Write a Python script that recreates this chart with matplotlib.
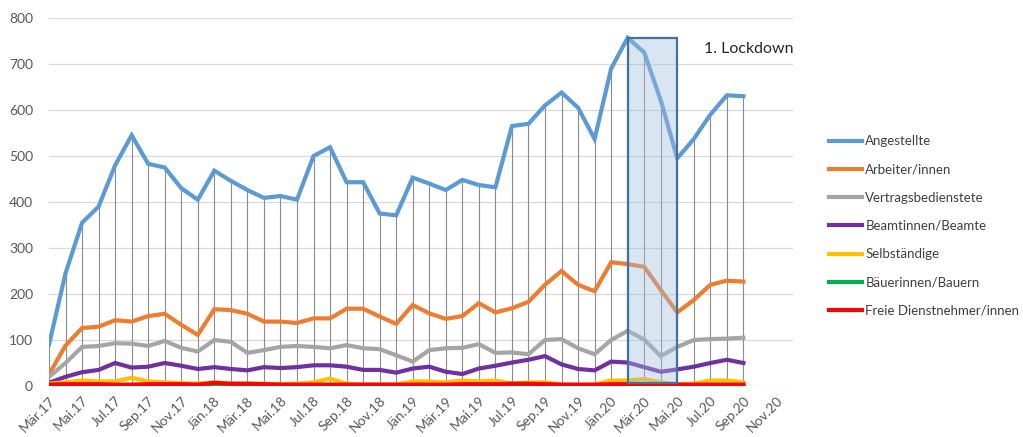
import numpy as np
import matplotlib.pyplot as plt
from matplotlib.patches import Rectangle

plt.rcParams['font.family'] = ['Lato', 'DejaVu Sans']

# months Mär.17 .. Sep.20
months = ['Mär.17', 'Apr.17', 'Mai.17', 'Jun.17', 'Jul.17', 'Aug.17', 'Sep.17', 'Okt.17', 'Nov.17', 'Dez.17',
          'Jän.18', 'Feb.18', 'Mär.18', 'Apr.18', 'Mai.18', 'Jun.18', 'Jul.18', 'Aug.18', 'Sep.18', 'Okt.18',
          'Nov.18', 'Dez.18', 'Jän.19', 'Feb.19', 'Mär.19', 'Apr.19', 'Mai.19', 'Jun.19', 'Jul.19', 'Aug.19',
          'Sep.19', 'Okt.19', 'Nov.19', 'Dez.19', 'Jän.20', 'Feb.20', 'Mär.20', 'Apr.20', 'Mai.20', 'Jun.20',
          'Jul.20', 'Aug.20', 'Sep.20']
tick_labels = ['Mär.17', 'Mai.17', 'Jul.17', 'Sep.17', 'Nov.17', 'Jän.18', 'Mär.18', 'Mai.18', 'Jul.18',
               'Sep.18', 'Nov.18', 'Jän.19', 'Mär.19', 'Mai.19', 'Jul.19', 'Sep.19', 'Nov.19', 'Jän.20',
               'Mär.20', 'Mai.20', 'Jul.20', 'Sep.20', 'Nov.20']

angestellte = [90, 245, 355, 390, 480, 545, 483, 475, 430, 405,
               468, 446, 426, 409, 413, 405, 500, 519, 443, 443,
               375, 371, 453, 440, 426, 448, 437, 432, 565, 570,
               610, 638, 605, 537, 690, 757, 725, 621, 495, 537,
               590, 632, 630]
arbeiter = [25, 88, 126, 129, 143, 140, 152, 157, 133, 111,
            167, 165, 157, 140, 140, 137, 147, 147, 168, 168,
            151, 135, 176, 158, 146, 152, 180, 160, 169, 183,
            220, 250, 220, 206, 269, 265, 259, 209, 160, 187,
            220, 229, 227]
vertrag = [20, 50, 85, 87, 93, 92, 87, 98, 83, 75,
           100, 96, 72, 78, 85, 87, 85, 82, 89, 82,
           80, 67, 53, 78, 82, 83, 91, 72, 73, 69,
           100, 102, 82, 69, 100, 120, 101, 65, 85, 100,
           102, 103, 105]
beamte = [7, 20, 30, 35, 50, 40, 42, 50, 44, 37,
          41, 37, 34, 41, 39, 41, 45, 45, 42, 35,
          35, 29, 38, 42, 31, 26, 38, 44, 51, 57,
          65, 47, 37, 34, 53, 51, 41, 31, 36, 42,
          50, 57, 50]
selbst = [5, 8, 12, 10, 10, 18, 10, 8, 6, 5,
          8, 5, 5, 5, 4, 5, 8, 16, 5, 3,
          3, 3, 10, 10, 8, 12, 10, 12, 5, 8,
          8, 3, 2, 3, 12, 12, 15, 8, 3, 5,
          12, 12, 8]
bauern = [1, 1, 1, 1, 1, 1, 1, 1, 1, 1,
          2, 1, 1, 1, 1, 1, 1, 1, 1, 1,
          1, 1, 1, 1, 1, 1, 1, 1, 1, 1,
          1, 1, 1, 1, 1, 1, 1, 1, 1, 1,
          1, 1, 1]
freie = [3, 4, 4, 4, 3, 3, 4, 4, 4, 3,
         7, 5, 5, 4, 3, 3, 3, 3, 3, 3,
         3, 3, 3, 3, 3, 4, 4, 4, 5, 5,
         4, 3, 3, 3, 4, 4, 4, 3, 3, 3,
         3, 3, 3]

series = [('Angestellte', angestellte, '#5B9BD5'),
          ('Arbeiter/innen', arbeiter, '#ED7D31'),
          ('Vertragsbedienstete', vertrag, '#A5A5A5'),
          ('Beamtinnen/Beamte', beamte, '#7030A0'),
          ('Selbständige', selbst, '#FFC000'),
          ('Bäuerinnen/Bauern', bauern, '#00B050'),
          ('Freie Dienstnehmer/innen', freie, '#FF0000')]

x = np.arange(len(months))

fig = plt.figure(figsize=(10.23, 4.37), dpi=100)
ax = fig.add_axes([49 / 1023, 1 - 386 / 437, (793 - 49) / 1023, (386 - 18) / 437])

# drop lines from the highest series to the axis
ax.vlines(x, 0, angestellte, color='#8C8C8C', lw=0.8, zorder=1)

for name, vals, col in series:
    ax.plot(x, vals, color=col, lw=3, label=name, zorder=3, solid_joinstyle='miter')

# 1. Lockdown box
i0 = months.index('Feb.20')
i1 = months.index('Mai.20')
ax.add_patch(Rectangle((i0, 6), i1 - i0, max(angestellte) - 6,
                       facecolor=(0.64, 0.745, 0.88, 0.4), edgecolor='#41719C', lw=1.6, zorder=4))
ax.text(i1 + 1.6, 733, '1. Lockdown', fontsize=11.5, color='#262626', va='center', ha='left')

ax.set_xlim(0, 45)
ax.set_ylim(0, 800)
ax.set_yticks(range(0, 801, 100))
ax.set_xticks(np.arange(0, 45, 2))
ax.set_xticklabels(tick_labels, rotation=45, ha='right', rotation_mode='anchor')
ax.tick_params(axis='both', length=0, colors='#595959', labelsize=10)
ax.tick_params(axis='x', pad=6)
ax.tick_params(axis='y', pad=11.5)
ax.grid(axis='y', color='#D9D9D9', lw=0.9, zorder=0)
ax.set_axisbelow(True)
for s in ax.spines.values():
    s.set_visible(False)

leg = fig.legend(loc='center left', bbox_to_anchor=(829 / 1023, 1 - 226 / 437), frameon=False,
                 fontsize=9.5, handlelength=2.5, handletextpad=0.25, labelspacing=1.23,
                 borderpad=0, borderaxespad=0)
for t in leg.get_texts():
    t.set_color('#404040')

fig.savefig('out.png', dpi=100)
